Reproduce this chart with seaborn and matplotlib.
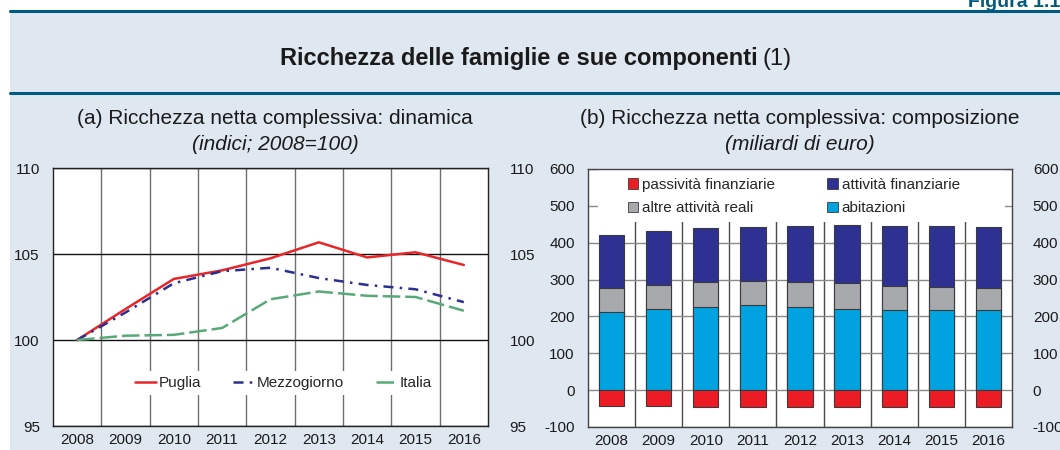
import numpy as np
import pandas as pd
import seaborn as sns
import matplotlib
matplotlib.use("Agg")
import matplotlib.pyplot as plt
from matplotlib.patches import Rectangle, Patch
from matplotlib.lines import Line2D

sns.set_theme(style="white")
plt.rcParams['font.family'] = ['Liberation Sans', 'DejaVu Sans']
plt.rcParams['axes.unicode_minus'] = False

# ---- data ----
years = [2008, 2009, 2010, 2011, 2012, 2013, 2014, 2015, 2016]

# (a) indici, 2008=100
puglia = [100.0, 101.8, 103.55, 104.05, 104.75, 105.68, 104.8, 105.1, 104.36]
mezzogiorno = [100.0, 101.6, 103.3, 104.0, 104.2, 103.6, 103.2, 102.95, 102.2]
italia = [100.0, 100.25, 100.3, 100.7, 102.37, 102.82, 102.57, 102.5, 101.7]

# (b) miliardi di euro
abitazioni = [212, 219, 226, 231, 226, 221, 218, 217, 217]
altre_reali = [66, 66, 68, 66, 68, 71, 65, 64, 61]
attivita_fin = [144, 146, 146, 145, 150, 155, 161, 164, 165]
passivita_fin = [-42, -44, -46, -46, -46, -46, -46, -46, -46]

series_names = ["Puglia", "Mezzogiorno", "Italia"]
series_colors = {"Puglia": "#e8262a", "Mezzogiorno": "#2b2f8f", "Italia": "#58a979"}
series_dashes = {"Puglia": "", "Mezzogiorno": (4, 2.5, 1, 2.5), "Italia": (7, 2)}

bar_colors = {"passività finanziarie": "#ed1c24", "attività finanziarie": "#2e3192",
              "altre attività reali": "#a7a9ac", "abitazioni": "#00a3e0"}

BG = "#dfe8f1"
TEAL = "#005b7f"
TXT = "#1a1a1a"
W, H = 1060, 450

fig = plt.figure(figsize=(W / 100, H / 100), dpi=100)
fig.patch.set_facecolor("white")


def px(x0, y0, w, h):
    # pixel box (top-left origin) -> figure fraction
    return [x0 / W, 1 - (y0 + h) / H, w / W, h / H]


fig.add_artist(Rectangle((10 / W, 0), 1, 1 - 11 / H, transform=fig.transFigure,
                         facecolor=BG, edgecolor="none", zorder=0))
for yy in (11.3, 93.3):
    fig.add_artist(Line2D([10 / W, 1], [1 - yy / H] * 2, transform=fig.transFigure,
                          color=TEAL, lw=2.2, zorder=1))

fig.text(968 / W, 1 - 7 / H, "Figura 1.1", color=TEAL, fontsize=14, fontweight="bold",
         ha="left", va="baseline")
fig.text(758 / W, 1 - 64.5 / H, "Ricchezza delle famiglie e sue componenti", fontsize=17,
         fontweight="bold", ha="right", va="baseline", color=TXT)
fig.text(763 / W, 1 - 64.5 / H, "(1)", fontsize=17, ha="left", va="baseline", color=TXT)

fig.text(275 / W, 1 - 124 / H, "(a) Ricchezza netta complessiva: dinamica", fontsize=15,
         ha="center", va="baseline", color=TXT)
fig.text(275 / W, 1 - 150 / H, "(indici; 2008=100)", fontsize=15, style="italic",
         ha="center", va="baseline", color=TXT)
fig.text(800 / W, 1 - 124 / H, "(b) Ricchezza netta complessiva: composizione", fontsize=15,
         ha="center", va="baseline", color=TXT)
fig.text(800 / W, 1 - 150 / H, "(miliardi di euro)", fontsize=15, style="italic",
         ha="center", va="baseline", color=TXT)

# ---- (a) line chart ----
ax1 = fig.add_axes(px(53, 168, 435, 258))
df_a = pd.DataFrame({
    "anno": years * 3,
    "indice": puglia + mezzogiorno + italia,
    "serie": sum([[n] * len(years) for n in series_names], []),
})
sns.lineplot(data=df_a, x="anno", y="indice", hue="serie", style="serie",
             hue_order=series_names, style_order=series_names,
             palette=series_colors, dashes=series_dashes, lw=1.8,
             legend=False, ax=ax1, zorder=3)
ax1.set_facecolor("white")
ax1.set_xlim(2007.5, 2016.5)
ax1.set_ylim(95, 110)
ax1.set_xticks(years)
ax1.set_xticklabels([str(y) for y in years])
ax1.set_xticks(np.arange(2008.5, 2016, 1), minor=True)
ax1.set_yticks([95, 100, 105, 110])
ax1.grid(False)
ax1.grid(axis="x", which="minor", color="#6e6e6e", lw=1)
ax1.grid(axis="y", which="major", color="#111111", lw=1)
ax1.set_axisbelow(True)
ax1.set_xlabel("")
ax1.set_ylabel("")
for s in ax1.spines.values():
    s.set_color("#222222")
    s.set_linewidth(1)
ax1.tick_params(axis="both", length=0, labelsize=11, colors=TXT)
ax1.tick_params(axis="x", pad=5)
ax1.tick_params(axis="y", pad=9.5)
ax1r = ax1.twinx()
ax1r.set_ylim(ax1.get_ylim())
ax1r.set_yticks([95, 100, 105, 110])
ax1r.tick_params(axis="y", length=0, labelsize=11, pad=15.5, colors=TXT)
ax1r.grid(False)
for s in ax1r.spines.values():
    s.set_visible(False)
handles = ax1.get_lines()[:3]
leg1 = ax1.legend(handles, series_names, loc="center", bbox_to_anchor=(0.53, 0.167),
                  ncol=3, frameon=True, fancybox=False, edgecolor="none",
                  facecolor="white", framealpha=1, fontsize=11, handlelength=1.4,
                  handletextpad=0.15, columnspacing=2.1, borderpad=0.35)
leg1.set_zorder(5)

# ---- (b) stacked bars ----
ax2 = fig.add_axes(px(588, 169, 424, 258))
ylab = [str(y) for y in years]
top_fin = np.array(abitazioni) + np.array(altre_reali) + np.array(attivita_fin)
top_altre = np.array(abitazioni) + np.array(altre_reali)
layers = [("attività finanziarie", top_fin), ("altre attività reali", top_altre),
          ("abitazioni", np.array(abitazioni)), ("passività finanziarie", np.array(passivita_fin))]
for name, vals in layers:
    sns.barplot(x=ylab, y=vals, color=bar_colors[name], saturation=1, width=0.54,
                edgecolor="#3a3a3a", linewidth=0.8, errorbar=None, ax=ax2, zorder=3)
ax2.set_facecolor("white")
ax2.set_xlim(-0.5, 8.5)
ax2.set_ylim(-100, 600)
ax2.set_yticks(range(-100, 601, 100))
ax2.set_xticks(np.arange(0.5, 8, 1), minor=True)
ax2.grid(False)
ax2.grid(axis="x", which="minor", color="#4a4a4a", lw=1)
ax2.grid(axis="y", which="major", color="#8a8a8a", lw=1)
ax2.set_axisbelow(True)
ax2.set_xlabel("")
ax2.set_ylabel("")
for s in ax2.spines.values():
    s.set_color("#444444")
    s.set_linewidth(1)
ax2.tick_params(axis="both", length=0, labelsize=11, colors=TXT)
ax2.tick_params(axis="x", pad=5)
ax2.tick_params(axis="y", pad=9.5)
ax2r = ax2.twinx()
ax2r.set_ylim(ax2.get_ylim())
ax2r.set_yticks(range(-100, 601, 100))
ax2r.tick_params(axis="y", length=0, labelsize=11, pad=15, colors=TXT)
ax2r.grid(False)
for s in ax2r.spines.values():
    s.set_visible(False)
# white box behind the legend (hides the grid there, as in the original)
ax2.add_patch(Rectangle((0.024, 0.795), 0.959, 0.205, transform=ax2.transAxes,
                        facecolor="white", edgecolor="none", zorder=2))
leg_order = ["passività finanziarie", "altre attività reali", "attività finanziarie", "abitazioni"]
patches = [Patch(facecolor=bar_colors[n], edgecolor="#3a3a3a", lw=0.6) for n in leg_order]
leg2 = ax2.legend(patches, leg_order, loc="upper center", bbox_to_anchor=(0.485, 1.0),
                  ncol=2, frameon=False, fontsize=11, handlelength=0.7,
                  handleheight=0.7, handletextpad=0.25, columnspacing=3.4,
                  labelspacing=0.6, borderpad=0.5, borderaxespad=0.1)
leg2.set_zorder(5)

fig.savefig("out.png", dpi=100, facecolor=fig.get_facecolor())
